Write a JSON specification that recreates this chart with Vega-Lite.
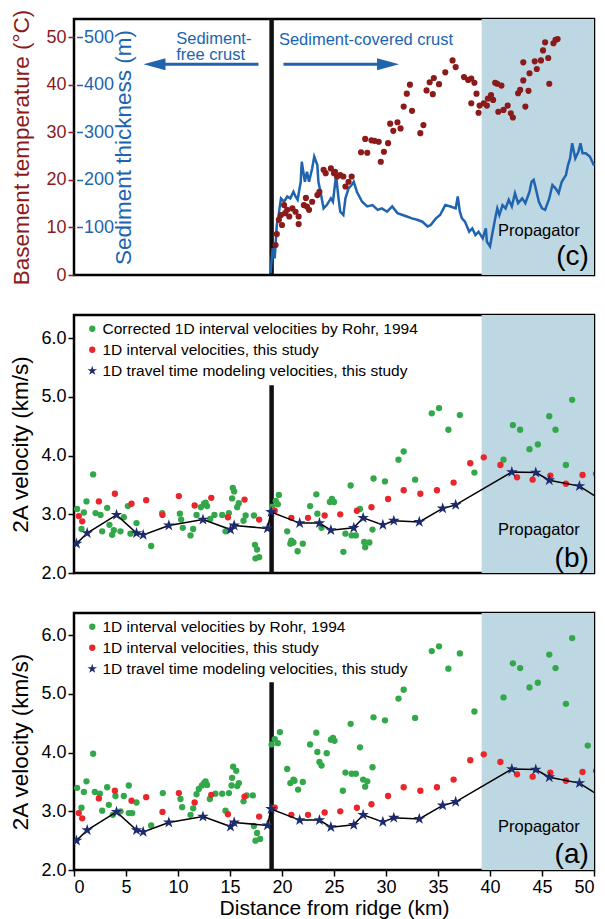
{
"$schema": "https://vega.github.io/schema/vega-lite/v6.json",
"background": "white",
"padding": {"left": 8, "top": 8, "right": 5, "bottom": 0},
"datasets": {
"sed": [
{"km":18.9,"m":4},{"km":19.1,"m":56},{"km":19.3,"m":35},{"km":19.5,"m":105},{"km":19.7,"m":130},{"km":19.9,"m":161},{"km":20.2,"m":154},{"km":20.5,"m":165},{"km":20.8,"m":161},{"km":21.1,"m":175},{"km":21.3,"m":165},{"km":21.5,"m":158},{"km":21.8,"m":196},{"km":21.9,"m":238},{"km":22.2,"m":196},{"km":22.4,"m":217},{"km":22.6,"m":196},{"km":22.9,"m":224},{"km":23.1,"m":249},{"km":23.4,"m":231},{"km":23.5,"m":196},{"km":23.7,"m":175},{"km":24.0,"m":140},{"km":24.3,"m":147},{"km":24.7,"m":161},{"km":24.9,"m":154},{"km":25.2,"m":210},{"km":25.4,"m":168},{"km":25.6,"m":133},{"km":25.9,"m":126},{"km":26.1,"m":161},{"km":26.4,"m":182},{"km":26.7,"m":189},{"km":26.9,"m":196},{"km":27.2,"m":175},{"km":27.7,"m":154},{"km":28.2,"m":144},{"km":28.7,"m":147},{"km":29.2,"m":137},{"km":29.6,"m":140},{"km":30.1,"m":133},{"km":30.6,"m":144},{"km":31.1,"m":130},{"km":31.6,"m":126},{"km":32.0,"m":123},{"km":32.5,"m":119},{"km":33.0,"m":116},{"km":33.5,"m":112},{"km":34.0,"m":102},{"km":34.3,"m":105},{"km":34.8,"m":119},{"km":35.2,"m":126},{"km":35.7,"m":147},{"km":36.2,"m":144},{"km":36.7,"m":140},{"km":36.9,"m":165},{"km":37.1,"m":133},{"km":37.3,"m":119},{"km":37.6,"m":112},{"km":38.0,"m":91},{"km":38.3,"m":98},{"km":38.6,"m":84},{"km":38.9,"m":91},{"km":39.3,"m":77},{"km":39.6,"m":98},{"km":39.7,"m":70},{"km":40.0,"m":60},{"km":40.2,"m":84},{"km":40.5,"m":119},{"km":40.7,"m":140},{"km":40.9,"m":126},{"km":41.2,"m":147},{"km":41.5,"m":140},{"km":41.8,"m":158},{"km":42.1,"m":144},{"km":42.4,"m":172},{"km":42.7,"m":151},{"km":43.1,"m":161},{"km":43.4,"m":151},{"km":43.8,"m":175},{"km":44.0,"m":196},{"km":44.2,"m":200},{"km":44.4,"m":182},{"km":44.7,"m":154},{"km":45.0,"m":140},{"km":45.3,"m":137},{"km":45.7,"m":161},{"km":46.0,"m":189},{"km":46.3,"m":182},{"km":46.6,"m":172},{"km":46.9,"m":196},{"km":47.3,"m":210},{"km":47.5,"m":231},{"km":47.7,"m":245},{"km":47.9,"m":277},{"km":48.2,"m":245},{"km":48.5,"m":259},{"km":48.7,"m":277},{"km":48.9,"m":256},{"km":49.2,"m":256},{"km":49.6,"m":249},{"km":50.0,"m":230}
],
"temp": [
{"km":19.38,"t":6.3},{"km":19.5,"t":8.6},{"km":19.7,"t":11.6},{"km":19.9,"t":12.6},{"km":20.0,"t":10.5},{"km":20.2,"t":14.7},{"km":20.3,"t":13.0},{"km":20.5,"t":13.7},{"km":20.7,"t":12.3},{"km":21.0,"t":14.0},{"km":21.3,"t":13.3},{"km":21.6,"t":12.3},{"km":21.6,"t":10.7},{"km":22.1,"t":14.7},{"km":22.3,"t":16.2},{"km":22.4,"t":14.4},{"km":22.6,"t":13.7},{"km":22.9,"t":15.4},{"km":23.4,"t":16.8},{"km":23.6,"t":17.5},{"km":24.0,"t":22.1},{"km":24.2,"t":21.4},{"km":24.7,"t":22.4},{"km":25.0,"t":21.4},{"km":25.1,"t":21.7},{"km":25.3,"t":20.7},{"km":25.6,"t":21.0},{"km":25.9,"t":20.7},{"km":26.1,"t":18.6},{"km":26.4,"t":19.6},{"km":26.7,"t":20.7},{"km":27.6,"t":25.8},{"km":28.2,"t":25.7},{"km":28.0,"t":28.6},{"km":28.6,"t":28.3},{"km":28.9,"t":28.2},{"km":29.3,"t":28.0},{"km":29.5,"t":23.8},{"km":29.8,"t":25.9},{"km":30.2,"t":27.7},{"km":30.4,"t":31.8},{"km":30.7,"t":30.3},{"km":31.1,"t":32.1},{"km":31.4,"t":30.8},{"km":31.7,"t":35.4},{"km":32.0,"t":38.1},{"km":32.3,"t":40.0},{"km":32.5,"t":34.5},{"km":33.3,"t":29.8},{"km":33.6,"t":31.5},{"km":33.9,"t":38.8},{"km":34.2,"t":40.5},{"km":34.5,"t":38.0},{"km":34.6,"t":41.4},{"km":35.1,"t":40.1},{"km":35.7,"t":42.6},{"km":36.4,"t":45.1},{"km":36.7,"t":43.7},{"km":37.5,"t":41.6},{"km":37.9,"t":41.0},{"km":38.2,"t":41.3},{"km":38.5,"t":40.4},{"km":38.7,"t":38.1},{"km":38.2,"t":36.1},{"km":38.9,"t":34.1},{"km":39.0,"t":35.6},{"km":39.4,"t":36.1},{"km":39.7,"t":35.6},{"km":39.8,"t":37.1},{"km":40.1,"t":37.8},{"km":40.3,"t":36.8},{"km":40.5,"t":40.4},{"km":40.7,"t":40.2},{"km":41.1,"t":39.8},{"km":40.8,"t":34.3},{"km":41.3,"t":34.7},{"km":41.7,"t":35.6},{"km":42.0,"t":34.0},{"km":42.2,"t":33.1},{"km":42.7,"t":38.2},{"km":42.9,"t":38.9},{"km":43.2,"t":40.9},{"km":43.4,"t":35.4},{"km":43.7,"t":38.7},{"km":43.2,"t":44.7},{"km":43.8,"t":42.4},{"km":44.3,"t":44.9},{"km":44.5,"t":43.3},{"km":44.9,"t":45.1},{"km":45.1,"t":47.2},{"km":45.3,"t":48.9},{"km":45.6,"t":45.6},{"km":45.7,"t":40.2},{"km":46.1,"t":48.7},{"km":46.3,"t":49.4},{"km":46.5,"t":49.6}
],
"travel": [
{"km":0.24,"v":2.50},{"km":1.27,"v":2.68},{"km":4.09,"v":2.99},{"km":6.01,"v":2.68},{"km":6.65,"v":2.65},{"km":9.12,"v":2.81},{"km":12.4,"v":2.91},{"km":15.05,"v":2.74},{"km":15.4,"v":2.81},{"km":18.6,"v":2.76},{"km":18.95,"v":3.04},{"km":21.7,"v":2.85},{"km":23.6,"v":2.85},{"km":24.7,"v":2.73},{"km":26.9,"v":2.77},{"km":27.8,"v":2.94},{"km":29.7,"v":2.82},{"km":30.75,"v":2.89},{"km":33.2,"v":2.87},{"km":35.45,"v":3.10},{"km":36.7,"v":3.16},{"km":42.1,"v":3.72},{"km":44.4,"v":3.71},{"km":45.7,"v":3.58},{"km":48.6,"v":3.48},{"km":51.5,"v":3.15}
],
"interval": [
{"km":0.46,"v":2.97},{"km":0.79,"v":2.88},{"km":2.39,"v":3.22},{"km":3.93,"v":3.35},{"km":5.53,"v":3.18},{"km":6.94,"v":3.24},{"km":8.51,"v":2.99},{"km":10.08,"v":3.31},{"km":11.6,"v":3.15},{"km":13.2,"v":3.28},{"km":14.8,"v":2.95},{"km":16.4,"v":3.25},{"km":17.8,"v":2.91},{"km":19.3,"v":3.06},{"km":20.9,"v":2.94},{"km":22.5,"v":2.94},{"km":24.1,"v":2.98},{"km":25.6,"v":3.00},{"km":27.2,"v":3.06},{"km":28.6,"v":3.12},{"km":30.2,"v":3.26},{"km":31.7,"v":3.41},{"km":33.3,"v":3.35},{"km":34.9,"v":3.41},{"km":36.5,"v":3.54},{"km":38.1,"v":3.87},{"km":39.4,"v":3.97},{"km":41.0,"v":3.84},{"km":42.6,"v":3.63},{"km":44.1,"v":3.59},{"km":45.8,"v":3.66},{"km":47.3,"v":3.52},{"km":48.9,"v":3.67},{"km":50.2,"v":3.69}
],
"rohrB": [
{"km":0.3,"v":3.09},{"km":0.95,"v":3.03},{"km":0.72,"v":2.75},{"km":1.2,"v":3.22},{"km":1.84,"v":3.68},{"km":2.07,"v":3.02},{"km":2.55,"v":2.99},{"km":2.71,"v":2.71},{"km":3.19,"v":3.11},{"km":3.41,"v":2.82},{"km":3.67,"v":2.65},{"km":3.83,"v":2.73},{"km":4.47,"v":2.71},{"km":4.79,"v":2.95},{"km":5.18,"v":3.14},{"km":5.43,"v":2.67},{"km":6.01,"v":2.85},{"km":7.42,"v":2.46},{"km":8.48,"v":3.02},{"km":10.18,"v":3.01},{"km":10.3,"v":2.91},{"km":10.46,"v":2.77},{"km":11.2,"v":2.64},{"km":11.46,"v":2.75},{"km":11.78,"v":2.99},{"km":12.2,"v":3.12},{"km":12.5,"v":3.18},{"km":12.8,"v":3.14},{"km":12.65,"v":3.20},{"km":13.1,"v":2.92},{"km":13.5,"v":2.99},{"km":14.25,"v":2.99},{"km":14.57,"v":2.71},{"km":14.89,"v":3.02},{"km":15.2,"v":3.27},{"km":15.27,"v":3.45},{"km":15.4,"v":3.39},{"km":15.69,"v":3.12},{"km":15.85,"v":3.19},{"km":16.3,"v":2.89},{"km":16.5,"v":2.98},{"km":17.3,"v":2.98},{"km":17.4,"v":2.48},{"km":17.6,"v":2.40},{"km":17.8,"v":2.27},{"km":17.45,"v":2.25},{"km":19.06,"v":3.13},{"km":19.4,"v":3.23},{"km":19.7,"v":3.33},{"km":19.6,"v":3.17},{"km":20.5,"v":2.71},{"km":20.8,"v":2.50},{"km":21.1,"v":2.52},{"km":20.9,"v":2.55},{"km":21.5,"v":2.37},{"km":22.0,"v":2.50},{"km":22.7,"v":3.14},{"km":23.3,"v":3.34},{"km":23.4,"v":3.01},{"km":23.8,"v":2.77},{"km":24.6,"v":3.21},{"km":24.8,"v":3.26},{"km":25.0,"v":3.21},{"km":26.6,"v":3.49},{"km":26.1,"v":2.67},{"km":25.9,"v":2.36},{"km":26.7,"v":2.64},{"km":27.1,"v":2.64},{"km":27.5,"v":3.09},{"km":27.9,"v":2.53},{"km":28.4,"v":2.52},{"km":28.0,"v":2.44},{"km":28.7,"v":2.74},{"km":28.8,"v":3.61},{"km":29.9,"v":3.56},{"km":31.2,"v":3.93},{"km":31.7,"v":4.07},{"km":32.8,"v":3.59},{"km":34.4,"v":4.72},{"km":35.1,"v":4.81},{"km":36.0,"v":4.44},{"km":37.1,"v":4.69},{"km":38.5,"v":3.71},{"km":41.3,"v":3.93},{"km":42.2,"v":4.52},{"km":42.9,"v":4.44},{"km":43.8,"v":4.11},{"km":44.6,"v":4.19},{"km":45.7,"v":4.67},{"km":46.3,"v":4.44},{"km":47.3,"v":3.84},{"km":47.9,"v":4.95}
],
"rohrA": [
{"km":0.3,"v":3.40},{"km":0.72,"v":3.06},{"km":0.95,"v":3.33},{"km":1.2,"v":3.51},{"km":1.84,"v":3.98},{"km":2.0,"v":3.33},{"km":2.48,"v":3.30},{"km":2.71,"v":3.01},{"km":3.19,"v":3.41},{"km":3.35,"v":3.11},{"km":3.73,"v":2.94},{"km":3.99,"v":3.26},{"km":4.47,"v":3.00},{"km":4.79,"v":3.26},{"km":5.27,"v":3.44},{"km":5.27,"v":2.97},{"km":5.6,"v":2.97},{"km":6.01,"v":3.15},{"km":7.42,"v":2.76},{"km":8.54,"v":3.31},{"km":10.24,"v":3.21},{"km":10.4,"v":3.07},{"km":11.2,"v":2.94},{"km":11.46,"v":3.05},{"km":11.78,"v":3.29},{"km":12.0,"v":3.38},{"km":12.3,"v":3.44},{"km":12.5,"v":3.48},{"km":12.65,"v":3.51},{"km":12.8,"v":3.45},{"km":13.06,"v":3.21},{"km":13.6,"v":3.30},{"km":14.25,"v":3.30},{"km":14.57,"v":3.01},{"km":14.9,"v":3.31},{"km":15.2,"v":3.57},{"km":15.3,"v":3.76},{"km":15.6,"v":3.69},{"km":15.15,"v":3.44},{"km":15.85,"v":3.48},{"km":15.7,"v":3.43},{"km":16.3,"v":3.17},{"km":16.6,"v":3.27},{"km":17.2,"v":3.27},{"km":17.3,"v":2.75},{"km":17.6,"v":2.63},{"km":17.45,"v":2.50},{"km":17.9,"v":2.53},{"km":19.0,"v":4.14},{"km":19.3,"v":4.23},{"km":19.8,"v":4.35},{"km":19.6,"v":4.16},{"km":20.5,"v":3.72},{"km":20.8,"v":3.48},{"km":21.1,"v":3.54},{"km":21.2,"v":3.52},{"km":21.55,"v":3.37},{"km":22.0,"v":3.50},{"km":22.7,"v":4.14},{"km":23.3,"v":4.34},{"km":23.4,"v":4.01},{"km":23.6,"v":3.84},{"km":23.8,"v":3.78},{"km":24.3,"v":3.99},{"km":24.7,"v":4.22},{"km":24.9,"v":4.25},{"km":25.05,"v":4.20},{"km":26.6,"v":4.49},{"km":26.1,"v":3.66},{"km":25.85,"v":3.35},{"km":26.7,"v":3.64},{"km":27.1,"v":3.64},{"km":27.5,"v":4.09},{"km":27.8,"v":3.54},{"km":28.2,"v":3.51},{"km":28.0,"v":3.42},{"km":28.7,"v":3.75},{"km":28.8,"v":4.60},{"km":29.9,"v":4.55},{"km":31.2,"v":4.92},{"km":31.7,"v":5.07},{"km":32.8,"v":4.59},{"km":34.4,"v":5.73},{"km":35.1,"v":5.81},{"km":36.0,"v":5.43},{"km":37.1,"v":5.69},{"km":38.5,"v":4.70},{"km":41.3,"v":4.94},{"km":42.2,"v":5.52},{"km":42.9,"v":5.44},{"km":43.8,"v":5.11},{"km":44.6,"v":5.19},{"km":45.7,"v":5.67},{"km":46.3,"v":5.44},{"km":47.3,"v":4.83},{"km":47.9,"v":5.95},{"km":49.4,"v":4.12}
]
},
"spacing": 40,
"bounds": "flush",
"resolve": {"scale": {"color": "independent", "shape": "independent", "x": "independent", "y": "independent"}, "legend": {"color": "independent", "shape": "independent"}},
"vconcat": [
{
"width": 520, "height": 256,
"layer": [
{"data": {"values": [{}]}, "layer": [
{"mark": {"type": "rect", "color": "#bdd7e3"}, "encoding": {"x": {"datum": 39.2, "type": "quantitative", "scale": {"domain": [0, 50], "nice": false}, "axis": null}, "x2": {"datum": 50}}},
{"mark": {"type": "rule", "color": "#111111", "strokeWidth": 4.5}, "encoding": {"x": {"datum": 19, "type": "quantitative", "axis": null}}}
]},
{"data": {"name": "sed"}, "mark": {"type": "line", "color": "#2064b0", "strokeWidth": 2.5}, "encoding": {
"x": {"field": "km", "type": "quantitative", "axis": null},
"y": {"field": "m", "type": "quantitative", "scale": {"domain": [0, 538], "nice": false}, "axis": {"orient": "right", "offset": -517.5, "values": [100, 200, 300, 400, 500], "labelColor": "#2064b0", "tickColor": "#2064b0", "titleColor": "#2064b0", "title": "Sediment thickness (m)", "titleAngle": 270, "titlePadding": 22, "labelPadding": 1}}
}},
{"layer": [
{"data": {"name": "temp"}, "mark": {"type": "point", "filled": true, "opacity": 1, "size": 38, "color": "#8b1a1a"}, "encoding": {
"x": {"field": "km", "type": "quantitative", "axis": null},
"y": {"field": "t", "type": "quantitative", "scale": {"domain": [0, 53.8], "nice": false}, "axis": {"orient": "left", "values": [0, 10, 20, 30, 40, 50], "labelColor": "#8b1a1a", "tickColor": "#8b1a1a", "titleColor": "#8b1a1a", "title": "Basement temperature (°C)", "titlePadding": 12}}
}},
{"data": {"values": [{}]}, "mark": {"type": "rule", "color": "#2064b0", "strokeWidth": 3}, "encoding": {"x": {"datum": 8.5, "type": "quantitative", "axis": null}, "x2": {"datum": 17.74}, "y": {"datum": 44.3, "type": "quantitative"}}},
{"data": {"values": [{}]}, "mark": {"type": "rule", "color": "#2064b0", "strokeWidth": 3}, "encoding": {"x": {"datum": 20.14, "type": "quantitative", "axis": null}, "x2": {"datum": 29.5}, "y": {"datum": 44.3, "type": "quantitative"}}},
{"data": {"values": [{}]}, "mark": {"type": "point", "filled": true, "opacity": 1, "color": "#2064b0", "size": 484, "shape": "M-1,0L1,-0.55L1,0.55Z"}, "encoding": {"x": {"datum": 7.74, "type": "quantitative", "axis": null}, "y": {"datum": 44.3, "type": "quantitative"}}},
{"data": {"values": [{}]}, "mark": {"type": "point", "filled": true, "opacity": 1, "color": "#2064b0", "size": 484, "shape": "M1,0L-1,-0.55L-1,0.55Z"}, "encoding": {"x": {"datum": 30.2, "type": "quantitative", "axis": null}, "y": {"datum": 44.3, "type": "quantitative"}}},
{"data": {"values": [{}]}, "mark": {"type": "text", "align": "left", "baseline": "middle", "fontSize": 16.5, "color": "#2064b0", "text": "Sediment-"}, "encoding": {"x": {"datum": 9.83, "type": "quantitative", "axis": null}, "y": {"datum": 49.5, "type": "quantitative"}}},
{"data": {"values": [{}]}, "mark": {"type": "text", "align": "left", "baseline": "middle", "fontSize": 16.5, "color": "#2064b0", "text": "free crust"}, "encoding": {"x": {"datum": 9.83, "type": "quantitative", "axis": null}, "y": {"datum": 46.3, "type": "quantitative"}}},
{"data": {"values": [{}]}, "mark": {"type": "text", "align": "left", "baseline": "middle", "fontSize": 16.5, "color": "#2064b0", "text": "Sediment-covered crust"}, "encoding": {"x": {"datum": 19.7, "type": "quantitative", "axis": null}, "y": {"datum": 49.4, "type": "quantitative"}}},
{"data": {"values": [{}]}, "mark": {"type": "text", "align": "center", "baseline": "middle", "fontSize": 16.5, "color": "black", "text": "Propagator"}, "encoding": {"x": {"datum": 44.7, "type": "quantitative", "axis": null}, "y": {"datum": 9.3, "type": "quantitative"}}},
{"data": {"values": [{}]}, "mark": {"type": "text", "align": "right", "baseline": "middle", "fontSize": 28, "color": "black", "text": "(c)"}, "encoding": {"x": {"datum": 49.5, "type": "quantitative", "axis": null}, "y": {"datum": 3.8, "type": "quantitative"}}}
]}
],
"resolve": {"scale": {"y": "independent"}, "axis": {"y": "independent"}}
},
{
"width": 520, "height": 258,
"layer": [
{"data": {"values": [{}]}, "mark": {"type": "rect", "color": "#bdd7e3"}, "encoding": {"x": {"datum": 39.2, "type": "quantitative", "scale": {"domain": [0, 50], "nice": false}, "axis": null}, "x2": {"datum": 50}}},
{"data": {"values": [{}]}, "mark": {"type": "rule", "color": "#111111", "strokeWidth": 4.5}, "encoding": {"x": {"datum": 19, "type": "quantitative", "axis": null}, "y": {"datum": 2, "type": "quantitative", "scale": {"domain": [2, 6.395], "nice": false, "zero": false}, "axis": {"values": [2, 3, 4, 5, 6], "format": ".1f", "title": "2A velocity (km/s)", "titlePadding": 8}}, "y2": {"datum": 5.2}}},
{"data": {"name": "rohrB"}, "mark": {"type": "point", "filled": true, "opacity": 1, "size": 40, "clip": true}, "encoding": {
"x": {"field": "km", "type": "quantitative", "axis": null},
"y": {"field": "v", "type": "quantitative", "title": "2A velocity (km/s)"},
"color": {"datum": "Corrected 1D interval velocities by Rohr, 1994", "type": "nominal", "scale": {"domain": ["Corrected 1D interval velocities by Rohr, 1994", "1D interval velocities, this study", "1D travel time modeling velocities, this study"], "range": ["#33a84a", "#e8262b", "#1e2a6e"]}, "legend": {"title": null, "orient": "none", "legendX": 10.5, "legendY": 6, "labelFontSize": 15.5, "labelOffset": 2.5, "rowPadding": 4, "symbolSize": 40, "labelLimit": 400}},
"shape": {"datum": "Corrected 1D interval velocities by Rohr, 1994", "type": "nominal", "scale": {"domain": ["Corrected 1D interval velocities by Rohr, 1994", "1D interval velocities, this study", "1D travel time modeling velocities, this study"], "range": ["circle", "circle", "M0,-1.6L0.359,-0.494L1.522,-0.494L0.581,0.189L0.94,1.294L0,0.611L-0.94,1.294L-0.581,0.189L-1.522,-0.494L-0.359,-0.494Z"]}, "legend": {"title": null, "orient": "none", "legendX": 10.5, "legendY": 6, "labelFontSize": 15.5, "labelOffset": 2.5, "rowPadding": 4, "symbolSize": 40, "labelLimit": 400}}
}},
{"data": {"name": "interval"}, "mark": {"type": "point", "filled": true, "opacity": 1, "size": 40, "clip": true}, "encoding": {
"x": {"field": "km", "type": "quantitative", "axis": null},
"y": {"field": "v", "type": "quantitative", "title": "2A velocity (km/s)"},
"color": {"datum": "1D interval velocities, this study", "type": "nominal"},
"shape": {"datum": "1D interval velocities, this study", "type": "nominal"}
}},
{"data": {"name": "travel"}, "mark": {"type": "line", "color": "black", "strokeWidth": 1.5, "clip": true}, "encoding": {
"x": {"field": "km", "type": "quantitative", "axis": null},
"y": {"field": "v", "type": "quantitative", "title": "2A velocity (km/s)"}
}},
{"data": {"name": "travel"}, "mark": {"type": "point", "filled": true, "opacity": 1, "size": 58, "clip": true}, "encoding": {
"x": {"field": "km", "type": "quantitative", "axis": null},
"y": {"field": "v", "type": "quantitative", "title": "2A velocity (km/s)"},
"color": {"datum": "1D travel time modeling velocities, this study", "type": "nominal"},
"shape": {"datum": "1D travel time modeling velocities, this study", "type": "nominal"}
}},
{"data": {"values": [{}]}, "mark": {"type": "text", "align": "center", "baseline": "middle", "fontSize": 16.5, "color": "black", "text": "Propagator"}, "encoding": {"x": {"datum": 44.7, "type": "quantitative", "axis": null}, "y": {"datum": 2.74, "type": "quantitative"}}},
{"data": {"values": [{}]}, "mark": {"type": "text", "align": "right", "baseline": "middle", "fontSize": 28, "color": "black", "text": "(b)"}, "encoding": {"x": {"datum": 49.5, "type": "quantitative", "axis": null}, "y": {"datum": 2.24, "type": "quantitative"}}}
]
},
{
"width": 520, "height": 257,
"layer": [
{"data": {"values": [{}]}, "mark": {"type": "rect", "color": "#bdd7e3"}, "encoding": {"x": {"datum": 39.2, "type": "quantitative", "scale": {"domain": [0, 50], "nice": false}, "axis": {"values": [0, 5, 10, 15, 20, 25, 30, 35, 40, 45, 50], "titleFontSize": 21, "titlePadding": 1}, "title": "Distance from ridge (km)"}, "x2": {"datum": 50}}},
{"data": {"values": [{}]}, "mark": {"type": "rule", "color": "#111111", "strokeWidth": 4.5}, "encoding": {"x": {"datum": 19, "type": "quantitative", "title": "Distance from ridge (km)"}, "y": {"datum": 2, "type": "quantitative", "scale": {"domain": [2, 6.378], "nice": false, "zero": false}, "axis": {"values": [2, 3, 4, 5, 6], "format": ".1f", "title": "2A velocity (km/s)", "titlePadding": 8}}, "y2": {"datum": 5.2}}},
{"data": {"name": "rohrA"}, "mark": {"type": "point", "filled": true, "opacity": 1, "size": 40, "clip": true}, "encoding": {
"x": {"field": "km", "type": "quantitative", "title": "Distance from ridge (km)"},
"y": {"field": "v", "type": "quantitative", "title": "2A velocity (km/s)"},
"color": {"datum": "1D interval velocities by Rohr, 1994", "type": "nominal", "scale": {"domain": ["1D interval velocities by Rohr, 1994", "1D interval velocities, this study", "1D travel time modeling velocities, this study"], "range": ["#33a84a", "#e8262b", "#1e2a6e"]}, "legend": {"title": null, "orient": "none", "legendX": 10.5, "legendY": 6, "labelFontSize": 15.5, "labelOffset": 2.5, "rowPadding": 4, "symbolSize": 40, "labelLimit": 400}},
"shape": {"datum": "1D interval velocities by Rohr, 1994", "type": "nominal", "scale": {"domain": ["1D interval velocities by Rohr, 1994", "1D interval velocities, this study", "1D travel time modeling velocities, this study"], "range": ["circle", "circle", "M0,-1.6L0.359,-0.494L1.522,-0.494L0.581,0.189L0.94,1.294L0,0.611L-0.94,1.294L-0.581,0.189L-1.522,-0.494L-0.359,-0.494Z"]}, "legend": {"title": null, "orient": "none", "legendX": 10.5, "legendY": 6, "labelFontSize": 15.5, "labelOffset": 2.5, "rowPadding": 4, "symbolSize": 40, "labelLimit": 400}}
}},
{"data": {"name": "interval"}, "mark": {"type": "point", "filled": true, "opacity": 1, "size": 40, "clip": true}, "encoding": {
"x": {"field": "km", "type": "quantitative", "title": "Distance from ridge (km)"},
"y": {"field": "v", "type": "quantitative", "title": "2A velocity (km/s)"},
"color": {"datum": "1D interval velocities, this study", "type": "nominal"},
"shape": {"datum": "1D interval velocities, this study", "type": "nominal"}
}},
{"data": {"name": "travel"}, "mark": {"type": "line", "color": "black", "strokeWidth": 1.5, "clip": true}, "encoding": {
"x": {"field": "km", "type": "quantitative", "title": "Distance from ridge (km)"},
"y": {"field": "v", "type": "quantitative", "title": "2A velocity (km/s)"}
}},
{"data": {"name": "travel"}, "mark": {"type": "point", "filled": true, "opacity": 1, "size": 58, "clip": true}, "encoding": {
"x": {"field": "km", "type": "quantitative", "title": "Distance from ridge (km)"},
"y": {"field": "v", "type": "quantitative", "title": "2A velocity (km/s)"},
"color": {"datum": "1D travel time modeling velocities, this study", "type": "nominal"},
"shape": {"datum": "1D travel time modeling velocities, this study", "type": "nominal"}
}},
{"data": {"values": [{}]}, "mark": {"type": "text", "align": "center", "baseline": "middle", "fontSize": 16.5, "color": "black", "text": "Propagator"}, "encoding": {"x": {"datum": 44.7, "type": "quantitative", "title": "Distance from ridge (km)"}, "y": {"datum": 2.73, "type": "quantitative"}}},
{"data": {"values": [{}]}, "mark": {"type": "text", "align": "right", "baseline": "middle", "fontSize": 28, "color": "black", "text": "(a)"}, "encoding": {"x": {"datum": 49.5, "type": "quantitative", "title": "Distance from ridge (km)"}, "y": {"datum": 2.26, "type": "quantitative"}}}
]
}
],
"config": {
"font": "Liberation Sans",
"view": {"stroke": "black", "strokeWidth": 2.5},
"axis": {"grid": false, "domain": false, "tickColor": "black", "tickSize": 6, "tickWidth": 1.5, "labelFontSize": 18, "titleFontSize": 22.5, "titleFontWeight": "normal", "labelColor": "black", "titleColor": "black", "labelPadding": 2, "labelFont": "Liberation Sans", "titleFont": "Liberation Sans"},
"legend": {"labelFontSize": 15.5, "symbolSize": 40, "rowPadding": 4, "labelOffset": 2.5, "padding": 0, "symbolStrokeWidth": 0, "labelColor": "black", "labelFont": "Liberation Sans", "labelLimit": 400}
}
}
